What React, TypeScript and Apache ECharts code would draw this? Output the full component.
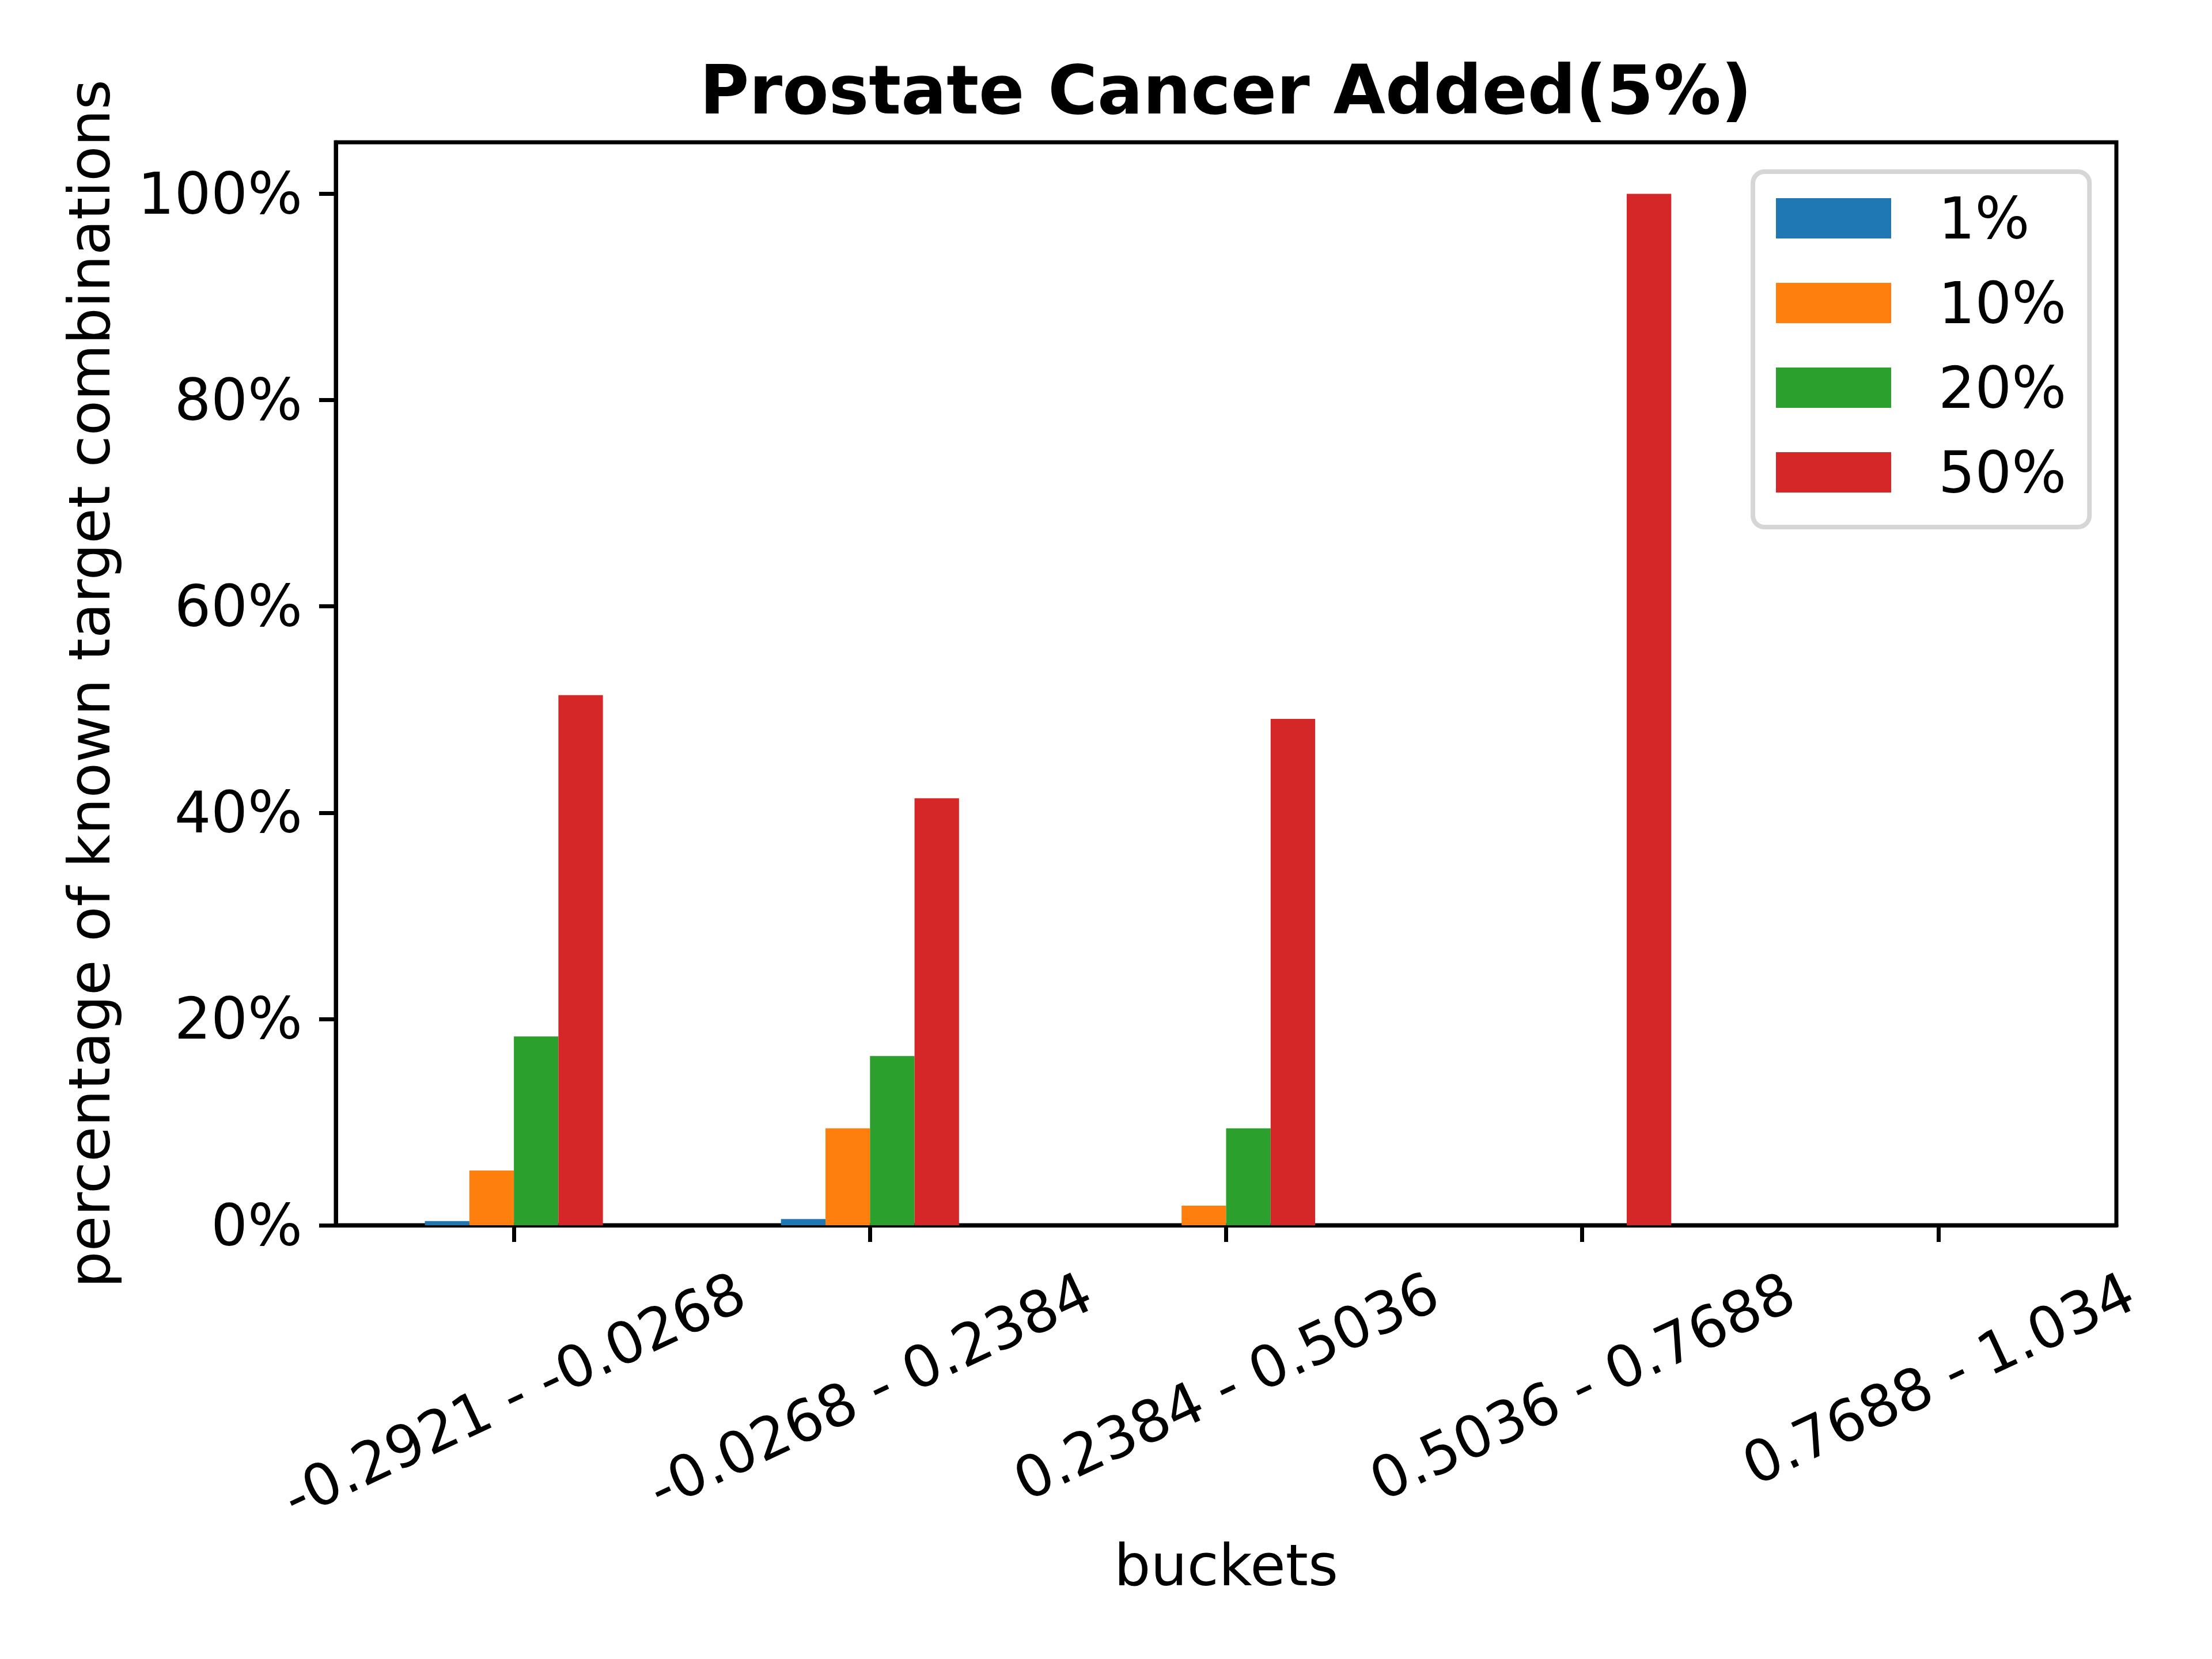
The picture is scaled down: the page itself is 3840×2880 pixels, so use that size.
import React, { useEffect, useRef } from "react";
import * as echarts from "echarts";

const categories = [
  "-0.2921 - -0.0268",
  "-0.0268 - 0.2384",
  "0.2384 - 0.5036",
  "0.5036 - 0.7688",
  "0.7688 - 1.034",
];
const seriesNames = ["1%", "10%", "20%", "50%"];
const values1 = [0.4, 0.6, 0, 0, 0];
const values10 = [5.3, 9.4, 1.9, 0, 0];
const values20 = [18.3, 16.4, 9.4, 0, 0];
const values50 = [51.4, 41.4, 49.1, 100, 0];
const yTicks = [0, 20, 40, 60, 80, 100];

const colors = ["#1f77b4", "#ff7f0e", "#2ca02c", "#d62728"];
const FONT = "DejaVu Sans";

export default function App() {
  const ref = useRef<HTMLDivElement>(null);

  useEffect(() => {
    document.body.style.margin = "0";
    if (!ref.current) return;
    const chart = echarts.init(ref.current, undefined, { renderer: "svg" });

    // measure label widths to mimic matplotlib's centred rotated tick labels
    const cv = document.createElement("canvas");
    const ctx = cv.getContext("2d")!;
    ctx.font = `100px "${FONT}"`;
    const rot = (25 * Math.PI) / 180;
    const LH = 100;
    const xData = categories.map((c) => {
      const w = ctx.measureText(c).width;
      const H = w * Math.sin(rot) + 116 * Math.cos(rot);
      const D = H / 2;
      return {
        value: c,
        textStyle: {
          align: "center",
          verticalAlign: "top",
          padding: [Math.max(0, D * Math.cos(rot) - LH / 2), 2 * D * Math.sin(rot), 0, 0],
        },
      };
    });

    const allValues = [values1, values10, values20, values50];

    chart.setOption({
      animation: false,
      backgroundColor: "#ffffff",
      color: colors,
      title: {
        text: "Prostate Cancer Added(5%)",
        left: 2128,
        top: 98,
        textAlign: "center",
        padding: 0,
        textStyle: {
          fontFamily: FONT,
          fontWeight: "bold",
          fontSize: 117,
          lineHeight: 117,
          color: "#000",
        },
      },
      legend: {
        orient: "vertical",
        left: 3043,
        top: 298,
        padding: [31, 40, 45, 40],
        itemWidth: 200,
        itemHeight: 70,
        itemGap: 47,
        borderColor: "#d6d6d6",
        borderWidth: 8,
        borderRadius: 20,
        backgroundColor: "#ffffff",
        icon: "rect",
        data: seriesNames,
        textStyle: {
          fontFamily: FONT,
          fontSize: 100,
          color: "#000",
          padding: [0, 0, 0, 77],
        },
      },
      grid: {
        left: 583,
        right: 166,
        top: 247,
        bottom: 753,
        show: true,
        borderColor: "#000",
        borderWidth: 7,
        containLabel: false,
        outerBoundsMode: "none",
      },
      xAxis: {
        type: "category",
        data: xData,
        name: "buckets",
        nameLocation: "middle",
        nameGap: 540,
        nameMoveOverlap: false,
        nameTextStyle: {
          fontFamily: FONT,
          fontSize: 100,
          lineHeight: 100,
          color: "#000",
        },
        axisLine: { show: true, lineStyle: { color: "#000", width: 7 } },
        axisTick: {
          show: true,
          alignWithLabel: true,
          interval: 0,
          length: 29,
          lineStyle: { color: "#000", width: 7 },
        },
        axisLabel: {
          interval: 0,
          rotate: 25,
          margin: 58,
          fontFamily: FONT,
          fontSize: 100,
          lineHeight: LH,
          color: "#000",
          hideOverlap: false,
        },
        splitLine: { show: false },
      },
      yAxis: {
        type: "value",
        min: 0,
        max: 105,
        interval: 20,
        name: "percentage of known target combinations",
        nameLocation: "middle",
        nameGap: 378,
        nameMoveOverlap: false,
        nameTextStyle: {
          fontFamily: FONT,
          fontSize: 100,
          lineHeight: 100,
          color: "#000",
        },
        axisLine: { show: true, lineStyle: { color: "#000", width: 7 } },
        axisTick: {
          show: true,
          length: 29,
          customValues: yTicks,
          lineStyle: { color: "#000", width: 7 },
        },
        axisLabel: {
          margin: 58,
          customValues: yTicks,
          formatter: (v: number) => `${v}%`,
          fontFamily: FONT,
          fontSize: 100,
          color: "#000",
        },
        splitLine: { show: false },
      },
      series: seriesNames.map((n, i) => ({
        name: n,
        type: "bar",
        data: allValues[i],
        barGap: "0%",
        barCategoryGap: "50%",
        itemStyle: { color: colors[i] },
      })),
    });

    return () => chart.dispose();
  }, []);

  return <div ref={ref} style={{ width: 3840, height: 2880 }} />;
}
